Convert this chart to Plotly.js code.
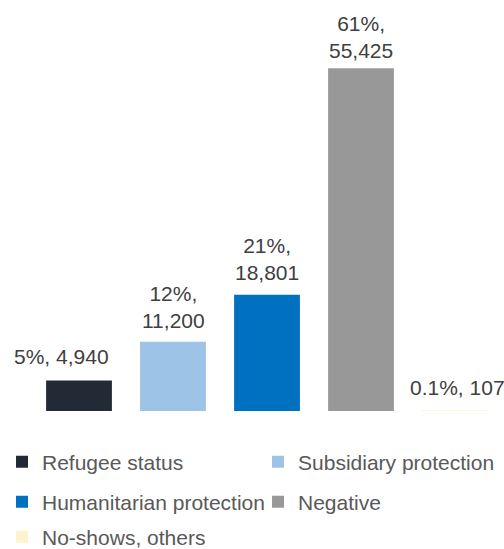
<!DOCTYPE html>
<html>
<head>
<meta charset="utf-8">
<script src="https://cdn.plot.ly/plotly-3.0.1.min.js"></script>
<style>html,body{margin:0;padding:0;background:#fff;}#chart{width:504px;height:549px;}</style>
</head>
<body>
<div id="chart"></div>
<script>
// Data
var categories = ["Refugee status", "Subsidiary protection", "Humanitarian protection", "Negative", "No-shows, others"];
var values = [4940, 11200, 18801, 55425, 107];
var percents = ["5%", "12%", "21%", "61%", "0.1%"];
var valueLabels = ["4,940", "11,200", "18,801", "55,425", "107"];

// Styles
var colors = ["#222a35", "#9dc3e6", "#0070c0", "#989898", "#fff2cc"];
var labelBreak = [", ", ",<br>", ",<br>", ",<br>", ", "];
var labelXShift = [-18, 0, 0, 0, 2];
var labelYShift = [10, 8, 9, 4, 9];
var legendIds = ["legend", "legend2", "legend3", "legend4", "legend5"];
var legendPos = [
  {x: -0.0638, y: -0.1375},
  {x: 0.4809, y: -0.1375},
  {x: -0.0638, y: -0.2453},
  {x: 0.4809, y: -0.2453},
  {x: -0.0638, y: -0.3397}
];

var font = "Liberation Sans, Arial, sans-serif";

var traces = categories.map(function (c, i) {
  return {
    type: "bar",
    x: [c],
    y: [values[i]],
    name: c,
    marker: {color: colors[i], line: {width: 0}},
    legend: legendIds[i],
    hoverinfo: "name+y"
  };
});

var annotations = categories.map(function (c, i) {
  return {
    x: c,
    y: values[i],
    xref: "x",
    yref: "y",
    text: percents[i] + labelBreak[i] + valueLabels[i],
    showarrow: false,
    xanchor: "center",
    yanchor: "bottom",
    xshift: labelXShift[i],
    yshift: labelYShift[i],
    font: {family: font, size: 21, color: "#404040"},
    align: "center"
  };
});

var layout = {
  width: 504,
  height: 549,
  margin: {l: 32, r: 2, t: 40, b: 138, autoexpand: false},
  paper_bgcolor: "#ffffff",
  plot_bgcolor: "#ffffff",
  barmode: "overlay",
  bargap: 0.3,
  showlegend: true,
  xaxis: {
    type: "category",
    categoryorder: "array",
    categoryarray: categories,
    range: [-0.5, 4.5],
    showticklabels: false,
    showgrid: false,
    zeroline: false,
    showline: false,
    ticks: ""
  },
  yaxis: {
    range: [0, 60000],
    showticklabels: false,
    showgrid: false,
    zeroline: false,
    showline: false,
    ticks: ""
  },
  annotations: annotations
};

legendIds.forEach(function (id, i) {
  layout[id] = {
    x: legendPos[i].x,
    y: legendPos[i].y,
    xanchor: "left",
    yanchor: "middle",
    xref: "paper",
    yref: "paper",
    orientation: "h",
    bgcolor: "rgba(0,0,0,0)",
    borderwidth: 0,
    itemwidth: 30,
    font: {family: font, size: 21, color: "#595959"}
  };
});

Plotly.newPlot("chart", traces, layout, {displayModeBar: false, staticPlot: true});
</script>
</body>
</html>
